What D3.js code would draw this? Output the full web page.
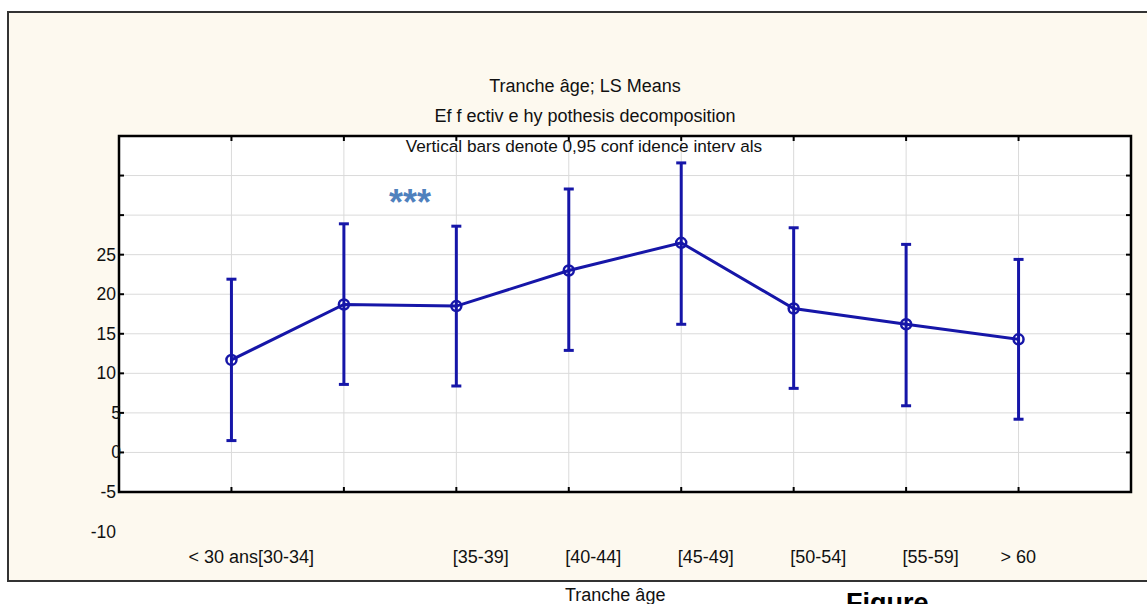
<!DOCTYPE html>
<html>
<head>
<meta charset="utf-8">
<script src="https://cdn.jsdelivr.net/npm/d3@7"></script>
<style>
  body { margin: 0; background: #fff; }
  text { font-family: Arial, "Liberation Sans", sans-serif; }
</style>
</head>
<body>
<svg width="1147" height="604"></svg>
<script>
// data
const categories = ["< 30 ans", "[30-34]", "[35-39]", "[40-44]", "[45-49]", "[50-54]", "[55-59]", "> 60"];
const means = [11.7, 18.7, 18.5, 23.0, 26.5, 18.2, 16.2, 14.3];
const upper = [21.9, 28.9, 28.6, 33.3, 36.6, 28.4, 26.3, 24.4];
const lower = [1.5, 8.6, 8.4, 12.9, 16.2, 8.1, 5.9, 4.2];
const yTickLabels = [-10, -5, 0, 5, 10, 15, 20, 25];
const gridValues = [0, 5, 10, 15, 20, 25, 30, 35];
const titleLines = ["Tranche âge; LS Means", "Ef f ectiv e hy pothesis decomposition"];
const subTitle = "Vertical bars denote 0,95 conf idence interv als";

const svg = d3.select("svg");
const blue = "#1616a8";

// label nudges (layout only), labels are start-anchored near their tick
const labelNudge = [-43, -86, -3.5, -3.5, -3.5, -3.5, -3.5, -18];

const pLeft = 119, pRight = 1131, pTop = 136, pBottom = 492;

// cream panel
svg.append("rect")
    .attr("x", 8).attr("y", 12)
    .attr("width", 1147 - 8).attr("height", 581 - 12)
    .attr("fill", "#fdf9ef");
svg.append("path")
    .attr("d", "M1147,12 H8 V581 H1147")
    .attr("fill", "none")
    .attr("stroke", "#333")
    .attr("stroke-width", 2);

const x = d3.scalePoint()
    .domain(categories)
    .range([pLeft, pRight])
    .padding(1);

const y = d3.scaleLinear()
    .domain([-5, 40])
    .range([pBottom, pTop]);

// plot background
svg.append("rect")
    .attr("x", pLeft).attr("y", pTop)
    .attr("width", pRight - pLeft).attr("height", pBottom - pTop)
    .attr("fill", "#fff");

var g = svg.append("g");

// grid
g.selectAll(".hgrid")
    .data(gridValues)
    .join("line")
    .attr("class", "hgrid")
    .attr("x1", pLeft).attr("x2", pRight)
    .attr("y1", d => y(d)).attr("y2", d => y(d))
    .attr("stroke", "#dadada")
    .attr("stroke-width", 1);

g.selectAll(".vgrid")
    .data(categories)
    .join("line")
    .attr("class", "vgrid")
    .attr("x1", d => x(d)).attr("x2", d => x(d))
    .attr("y1", pTop).attr("y2", pBottom)
    .attr("stroke", "#dadada")
    .attr("stroke-width", 1);

// inner tick marks
const tk = 5;
svg.append("g").selectAll("line")
    .data([-5].concat(gridValues))
    .join("line")
    .attr("x1", pLeft).attr("x2", pLeft + tk)
    .attr("y1", d => y(d)).attr("y2", d => y(d))
    .attr("stroke", "#000").attr("stroke-width", 2);
svg.append("g").selectAll("line")
    .data(gridValues)
    .join("line")
    .attr("x1", pRight - tk).attr("x2", pRight)
    .attr("y1", d => y(d)).attr("y2", d => y(d))
    .attr("stroke", "#000").attr("stroke-width", 2);
svg.append("g").selectAll("line")
    .data(categories)
    .join("line")
    .attr("x1", d => x(d)).attr("x2", d => x(d))
    .attr("y1", pBottom - tk).attr("y2", pBottom)
    .attr("stroke", "#000").attr("stroke-width", 2);
svg.append("g").selectAll("line")
    .data(categories)
    .join("line")
    .attr("x1", d => x(d)).attr("x2", d => x(d))
    .attr("y1", pTop).attr("y2", pTop + tk)
    .attr("stroke", "#000").attr("stroke-width", 2);

// frame
svg.append("rect")
    .attr("x", pLeft).attr("y", pTop)
    .attr("width", pRight - pLeft).attr("height", pBottom - pTop)
    .attr("fill", "none")
    .attr("stroke", "#000")
    .attr("stroke-width", 2.5);

// y labels
svg.append("g").selectAll("text")
    .data(yTickLabels)
    .join("text")
    .attr("x", d => String(d).length == 1 ? 121 : 116)
    .attr("y", d => y(d) + 6)
    .attr("text-anchor", "end")
    .attr("font-size", 17.5)
    .attr("fill", "#111")
    .text(d => d);

// x labels
svg.append("g").selectAll("text")
    .data(categories)
    .join("text")
    .attr("x", (d, i) => x(d) + labelNudge[i])
    .attr("y", 563)
    .attr("font-size", 18)
    .attr("fill", "#111")
    .text(d => d);

// titles
svg.append("g").selectAll("text")
    .data(titleLines)
    .join("text")
    .attr("x", 585)
    .attr("y", (d, i) => 92 + i * 30)
    .attr("text-anchor", "middle")
    .attr("font-size", 18)
    .attr("fill", "#111")
    .text(d => d);
svg.append("text")
    .attr("x", 584).attr("y", 152)
    .attr("text-anchor", "middle")
    .attr("font-size", 17.2)
    .attr("fill", "#111")
    .text(subTitle);

// error bars
const rows = categories.map((c, i) => ({c: c, m: means[i], lo: lower[i], hi: upper[i]}));
const eb = svg.append("g").attr("stroke", blue).attr("stroke-width", 3).attr("fill", "none");
eb.selectAll(".bar")
    .data(rows)
    .join("line")
    .attr("class", "bar")
    .attr("x1", d => x(d.c)).attr("x2", d => x(d.c))
    .attr("y1", d => y(d.lo)).attr("y2", d => y(d.hi));
eb.selectAll(".capHi")
    .data(rows)
    .join("line")
    .attr("class", "capHi")
    .attr("x1", d => x(d.c) - 5).attr("x2", d => x(d.c) + 5)
    .attr("y1", d => y(d.hi)).attr("y2", d => y(d.hi));
eb.selectAll(".capLo")
    .data(rows)
    .join("line")
    .attr("class", "capLo")
    .attr("x1", d => x(d.c) - 5).attr("x2", d => x(d.c) + 5)
    .attr("y1", d => y(d.lo)).attr("y2", d => y(d.lo));

// mean line and markers
svg.append("path")
    .datum(rows)
    .attr("fill", "none")
    .attr("stroke", blue)
    .attr("stroke-width", 3)
    .attr("d", d3.line().x(d => x(d.c)).y(d => y(d.m)));
svg.append("g").selectAll("circle")
    .data(rows)
    .join("circle")
    .attr("cx", d => x(d.c)).attr("cy", d => y(d.m))
    .attr("r", 5)
    .attr("fill", "none")
    .attr("stroke", blue)
    .attr("stroke-width", 2.5);

// stars
svg.append("text")
    .attr("x", 389).attr("y", 215)
    .attr("font-family", "'DejaVu Sans', sans-serif")
    .attr("font-weight", "bold")
    .attr("font-size", 36)
    .attr("fill", "#4f81bd")
    .text("***");

// below panel
svg.append("text")
    .attr("x", 565).attr("y", 601)
    .attr("font-size", 18)
    .attr("fill", "#111")
    .text("Tranche âge");
svg.append("text")
    .attr("x", 846).attr("y", 612)
    .attr("font-family", "'DejaVu Sans', sans-serif")
    .attr("font-weight", "bold")
    .attr("font-size", 27)
    .attr("fill", "#000")
    .text("Figure");
</script>
</body>
</html>
